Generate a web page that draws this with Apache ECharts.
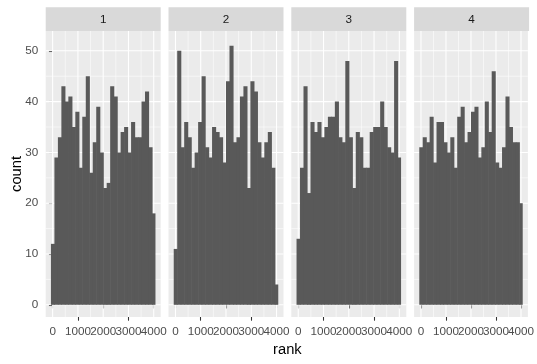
<!DOCTYPE html>
<html>
<head>
<meta charset="utf-8">
<script src="https://cdn.jsdelivr.net/npm/echarts@6/dist/echarts.min.js"></script>
<style>
html,body{margin:0;padding:0;background:#fff;}
#chart{width:537px;height:364px;}
</style>
</head>
<body>
<div id="chart"></div>
<script>
// ---- data ----
const panels = ['1', '2', '3', '4'];
const counts1 = [12,29,33,43,40,41,35,38,27,37,45,26,32,39,30,23,24,43,41,30,34,35,30,36,33,33,40,42,31,18];
const counts2 = [11,50,31,36,33,27,30,36,45,31,29,35,34,33,28,44,51,32,33,41,43,23,44,42,32,29,32,34,27,4];
const counts3 = [13,27,43,22,36,34,36,33,35,37,37,40,33,32,48,33,23,34,33,27,27,34,35,35,40,35,31,30,48,29];
const counts4 = [31,33,32,37,28,36,36,32,30,33,27,37,39,32,34,38,39,29,31,40,34,46,28,27,31,41,35,32,32,20];
const xTicks = [0, 1000, 2000, 3000, 4000];
const xMinor = [500, 1500, 2500, 3500];
const yTicks = [0, 10, 20, 30, 40, 50];
const yMinor = [5, 15, 25, 35, 45];
// ggplot-style binning of rank 1..4000 into 30 bins
const rankMin = 1, rankMax = 4000, nBins = 30;

const allCounts = [counts1, counts2, counts3, counts4];
const binW = (rankMax - rankMin) / (nBins - 1);

const FONT = '"Liberation Sans", Arial, sans-serif';
const panelLeft0 = 45.7, pitch = 122.8, panelW = 115, panelTop = 31, panelH = 286;
const xMin = -275, xMax = 4276, yMin = -2.4, yMax = 53.9;

// labels are split over two stacked axes so that ECharts does not drop overlapping neighbours
const xTicksA = xTicks.filter((v, k) => k % 2 === 0);
const xTicksB = xTicks.filter((v, k) => k % 2 === 1);

// grid line rows: [kind, value]; kind 0 = vertical major, 1 = vertical minor, 2 = horizontal major, 3 = horizontal minor
const gridLineData = [];
xTicks.forEach(v => gridLineData.push([0, v]));
xMinor.forEach(v => gridLineData.push([1, v]));
yTicks.forEach(v => gridLineData.push([2, v]));
yMinor.forEach(v => gridLineData.push([3, v]));

function xAxisDef(i, vals) {
  return {type: 'value', gridIndex: i, min: xMin, max: xMax, position: 'bottom', offset: 0,
    axisLine: {show: false},
    axisTick: {show: true, length: 3.7, lineStyle: {color: '#333333', width: 1.07}, customValues: vals},
    axisLabel: {show: true, color: '#4D4D4D', fontSize: 11.7, fontFamily: FONT, margin: 9,
      customValues: vals, formatter: v => String(v), showMinLabel: true, showMaxLabel: true},
    splitLine: {show: false}};
}

const grids = [], xAxes = [], yAxes = [], series = [], graphics = [];
panels.forEach((p, i) => {
  const left = panelLeft0 + pitch * i;
  grids.push({left: left, top: panelTop, width: panelW, height: panelH, show: true,
    backgroundColor: '#EBEBEB', borderWidth: 0, containLabel: false});
  xAxes.push(xAxisDef(i, xTicksA));
  xAxes.push(xAxisDef(i, xTicksB));
  yAxes.push({type: 'value', gridIndex: i, min: yMin, max: yMax, position: 'left',
    axisLine: {show: false},
    axisTick: {show: i === 0, length: 3.7, lineStyle: {color: '#333333', width: 1.07}, customValues: yTicks},
    axisLabel: {show: i === 0, color: '#4D4D4D', fontSize: 11.7, fontFamily: FONT, margin: 7.4,
      customValues: yTicks, formatter: v => String(v), showMinLabel: true, showMaxLabel: true},
    splitLine: {show: false}});

  // panel grid lines, placed through the axes' scales
  series.push({type: 'custom', xAxisIndex: 2 * i, yAxisIndex: i, data: gridLineData, clip: false, z: 1,
    silent: true, encode: {x: 1, y: 1},
    renderItem: function (params, api) {
      const kind = api.value(0), v = api.value(1);
      let a, b;
      if (kind < 2) { a = api.coord([v, yMin]); b = api.coord([v, yMax]); }
      else { a = api.coord([xMin, v]); b = api.coord([xMax, v]); }
      return {type: 'line', shape: {x1: a[0], y1: a[1], x2: b[0], y2: b[1]},
        style: {stroke: '#FFFFFF', lineWidth: (kind % 2 === 0) ? 1.07 : 0.55}};
    }});

  const data = allCounts[i].map((c, k) => {
    const center = rankMin + k * binW;
    return [center - binW / 2, center + binW / 2, c];
  });
  series.push({type: 'custom', xAxisIndex: 2 * i, yAxisIndex: i, data: data,
    encode: {x: [0, 1], y: 2}, clip: true, z: 5,
    renderItem: function (params, api) {
      const a = api.coord([api.value(0), api.value(2)]);
      const b = api.coord([api.value(1), 0]);
      const last = params.dataIndex === params.dataInsideLength - 1;
      return {type: 'rect', shape: {x: a[0], y: a[1], width: b[0] - a[0] + (last ? 0 : 0.6), height: b[1] - a[1]},
        style: {fill: '#595959'}};
    }});

  // strip
  graphics.push({type: 'rect', left: left, top: 7.3, shape: {width: panelW, height: panelTop - 7.3},
    style: {fill: '#D9D9D9'}, z: 10});
  graphics.push({type: 'text', x: left + panelW / 2, y: (7.3 + panelTop) / 2 + 0.5,
    style: {text: p, fill: '#1A1A1A', font: '11.7px ' + FONT, textAlign: 'center', textVerticalAlign: 'middle'}, z: 11});
});

graphics.push({type: 'text', x: panelLeft0 + (pitch * 3 + panelW) / 2, y: 349.5,
  style: {text: 'rank', fill: '#000000', font: '14.7px ' + FONT, textAlign: 'center', textVerticalAlign: 'middle'}});
graphics.push({type: 'text', x: 16.5, y: panelTop + panelH / 2, rotation: Math.PI / 2,
  style: {text: 'count', fill: '#000000', font: '14.7px ' + FONT, textAlign: 'center', textVerticalAlign: 'middle'}});

const chart = echarts.init(document.getElementById('chart'), null, {renderer: 'canvas'});
chart.setOption({
  animation: false,
  backgroundColor: '#FFFFFF',
  grid: grids, xAxis: xAxes, yAxis: yAxes, series: series, graphic: graphics
});
</script>
</body>
</html>
